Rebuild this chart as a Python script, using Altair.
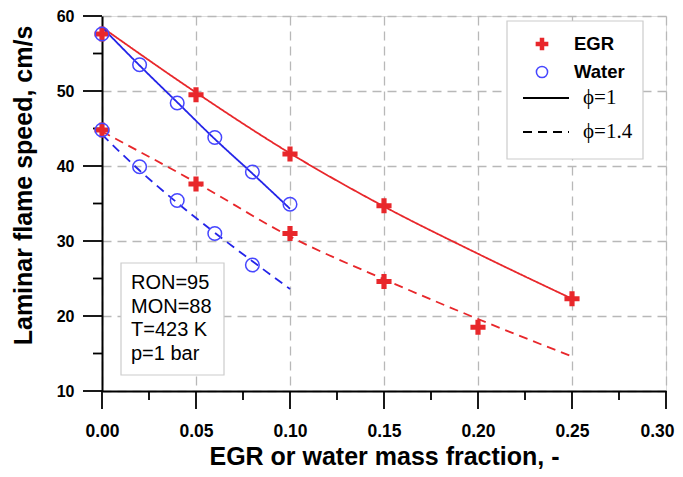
import altair as alt
import pandas as pd

# ---- measured data points ----
egr1_x = [0.0, 0.05, 0.10, 0.15, 0.25]
egr1_y = [57.6, 49.5, 41.6, 34.7, 22.3]
egr14_x = [0.0, 0.05, 0.10, 0.15, 0.20]
egr14_y = [44.8, 37.6, 31.0, 24.6, 18.5]
wat1_x = [0.0, 0.02, 0.04, 0.06, 0.08, 0.10]
wat1_y = [57.6, 53.5, 48.4, 43.8, 39.2, 34.9]
wat14_x = [0.0, 0.02, 0.04, 0.06, 0.08]
wat14_y = [44.8, 39.9, 35.4, 31.0, 26.8]

# ---- fitted curves ----
fit_egr_x = [0.0, 0.05, 0.10, 0.15, 0.20, 0.25]
fit_egr1_y = [58.5, 49.8, 41.7, 34.6, 28.3, 22.3]
fit_egr14_y = [44.6, 37.8, 30.6, 24.9, 19.6, 14.6]
fit_wat_x = [0.0, 0.02, 0.04, 0.06, 0.08, 0.10]
fit_wat1_y = [58.5, 53.4, 48.5, 43.6, 39.0, 34.3]
fit_wat14_y = [44.2, 39.4, 35.1, 31.1, 27.3, 23.6]

fuels = ["EGR", "Water"]
phis = ["\u03d5=1", "\u03d5=1.4"]
x_ticks = [0.0, 0.05, 0.10, 0.15, 0.20, 0.25, 0.30]
x_minor = [0.025, 0.075, 0.125, 0.175, 0.225, 0.275]
y_ticks = [10, 20, 30, 40, 50, 60]
y_minor = [15, 25, 35, 45, 55]
note_lines = ["RON=95", "MON=88", "T=423 K", "p=1 bar"]

RED = "#e8272b"
BLUE = "#2424e8"
CIRC = "#4646ff"

rows = []
for f, p, xs_, ys_ in [("EGR", phis[0], egr1_x, egr1_y), ("EGR", phis[1], egr14_x, egr14_y),
                        ("Water", phis[0], wat1_x, wat1_y), ("Water", phis[1], wat14_x, wat14_y)]:
    for a, b in zip(xs_, ys_):
        rows.append({"Fuel": f, "phi": p, "x": a, "y": b})
pts = pd.DataFrame(rows)

crows = []
for f, p, xs_, ys_ in [("EGR", phis[0], fit_egr_x, fit_egr1_y), ("EGR", phis[1], fit_egr_x, fit_egr14_y),
                        ("Water", phis[0], fit_wat_x, fit_wat1_y), ("Water", phis[1], fit_wat_x, fit_wat14_y)]:
    for a, b in zip(xs_, ys_):
        crows.append({"Fuel": f, "phi": p, "x": a, "y": b, "grp": f + p})
curves = pd.DataFrame(crows)

xs = alt.Scale(domain=[0, 0.3], nice=False, zero=False)
ys = alt.Scale(domain=[10, 60], nice=False, zero=False)

FONT = "Liberation Sans"
H = 375

main_x = alt.Axis(values=x_ticks, format=".2f", orient="bottom", title="EGR or water mass fraction, -",
                  labelFont=FONT, labelFontWeight="bold", labelFontSize=17.5, labelColor="black",
                  labelPadding=31, ticks=False,
                  labelOffset={"condition": {"test": "datum.value >= 0.29", "value": -9}, "value": 0},
                  domainColor="black", domainWidth=2, grid=True, gridDash=[9, 6],
                  gridColor="#b8b8b8", gridWidth=1.3, titleFont=FONT, titleFontSize=25,
                  titleFontWeight="bold", titleColor="black", titleBaseline="alphabetic",
                  titleY=73, labelFlush=False)
main_y = alt.Axis(values=y_ticks, orient="left", title="Laminar flame speed, cm/s",
                  labelFont=FONT, labelFontWeight="bold", labelFontSize=16, labelColor="black",
                  labelPadding=28, ticks=False,
                  domainColor="black", domainWidth=2, grid=True, gridDash=[9, 6],
                  gridColor="#b8b8b8", gridWidth=1.3, titleFont=FONT, titleFontSize=25,
                  titleFontWeight="bold", titleColor="black", titleBaseline="alphabetic",
                  titleAngle=270, titleX=-71, titleY=169, labelFlush=False)

tick_style = dict(color="black", strokeWidth=1.8)
xmaj = alt.Chart(pd.DataFrame({"v": x_ticks})).mark_rule(**tick_style).encode(
    x=alt.X("v:Q", scale=xs, axis=None), y=alt.value(H), y2=alt.value(H + 18))
xmin = alt.Chart(pd.DataFrame({"v": x_minor})).mark_rule(**tick_style).encode(
    x=alt.X("v:Q", scale=xs, axis=None), y=alt.value(H), y2=alt.value(H + 9))
ymaj = alt.Chart(pd.DataFrame({"v": y_ticks})).mark_rule(**tick_style).encode(
    y=alt.Y("v:Q", scale=ys, axis=None), x=alt.value(0), x2=alt.value(-19))
ymin = alt.Chart(pd.DataFrame({"v": y_minor})).mark_rule(**tick_style).encode(
    y=alt.Y("v:Q", scale=ys, axis=None), x=alt.value(0), x2=alt.value(-9))

lines = alt.Chart(curves).mark_line(strokeWidth=1.8, interpolate="monotone").encode(
    x=alt.X("x:Q", scale=xs, axis=main_x),
    y=alt.Y("y:Q", scale=ys, axis=main_y),
    color=alt.Color("Fuel:N", scale=alt.Scale(domain=fuels, range=[RED, BLUE]), legend=None),
    strokeDash=alt.StrokeDash("phi:N", scale=alt.Scale(domain=phis, range=[[1, 0], [9, 6]]),
                              legend=alt.Legend(title=None, orient="none", legendX=420, legendY=58,
                                                symbolType="stroke", symbolSize=2116,
                                                symbolStrokeColor="black", symbolStrokeWidth=1.8,
                                                labelFont="Liberation Serif", labelFontSize=21,
                                                labelColor="black", labelOffset=13, rowPadding=0,
                                                padding=0, zindex=3)),
    detail="grp:N",
)

one = pd.DataFrame({"t": ["\n".join(note_lines)]})

legend_box = alt.Chart(one).mark_rect(fill="white", stroke="#cccccc", strokeWidth=1.2).encode(
    x=alt.value(405), x2=alt.value(541), y=alt.value(5), y2=alt.value(143))
note_box = alt.Chart(one).mark_rect(fill="white", stroke="#cccccc", strokeWidth=1.2).encode(
    x=alt.value(19), x2=alt.value(122), y=alt.value(247), y2=alt.value(359))
note_text = alt.Chart(one).mark_text(align="left", baseline="top", lineBreak="\n", font=FONT,
                                     fontSize=20, lineHeight=23.5, color="black").encode(
    x=alt.value(29), y=alt.value(257), text="t:N")

cross = "M-1,-0.27H1V0.27H-1Z M-0.27,-1H0.27V1H-0.27Z"
shape_enc = alt.Shape("Fuel:N", scale=alt.Scale(domain=fuels, range=[cross, "circle"]), legend=None)
fill_enc = alt.Fill("Fuel:N", scale=alt.Scale(domain=fuels, range=[RED, "transparent"]), legend=None)
stroke_enc = alt.Stroke("Fuel:N", scale=alt.Scale(domain=fuels, range=[RED, CIRC]), legend=None)

points = alt.Chart(pts).mark_point(size=185, strokeWidth=1.5, opacity=1).encode(
    x=alt.X("x:Q", scale=xs, axis=None),
    y=alt.Y("y:Q", scale=ys, axis=None),
    shape=shape_enc, fill=fill_enc, stroke=stroke_enc,
)

# legend for the two fuels, placed through a point scale with a pixel range
leg_df = pd.DataFrame({"Fuel": fuels})
leg_y = alt.Y("Fuel:N", scale=alt.Scale(type="point", domain=fuels, range=[28, 56], padding=0), axis=None)
leg_sym = alt.Chart(leg_df).mark_point(size=125, strokeWidth=1.5, opacity=1).encode(
    x=alt.value(440), y=leg_y, shape=shape_enc, fill=fill_enc, stroke=stroke_enc)
leg_txt = alt.Chart(leg_df).mark_text(align="left", baseline="middle", font=FONT, fontWeight="bold",
                                      fontSize=18.5, color="black").encode(
    x=alt.value(472), y=leg_y, text="Fuel:N")

chart = alt.layer(lines, xmaj, xmin, ymaj, ymin, legend_box, note_box, note_text, points,
                  leg_sym, leg_txt).resolve_scale(y="independent").resolve_axis(
    x="independent", y="independent"
).properties(
    width=564, height=H,
    autosize=alt.AutoSizeParams(type="none"),
    padding={"left": 94, "top": 8, "right": 9, "bottom": 78},
).configure_view(stroke="black", strokeWidth=2).configure(background="white")

chart.save("out.html", embed_options={"renderer": "svg", "actions": False})
